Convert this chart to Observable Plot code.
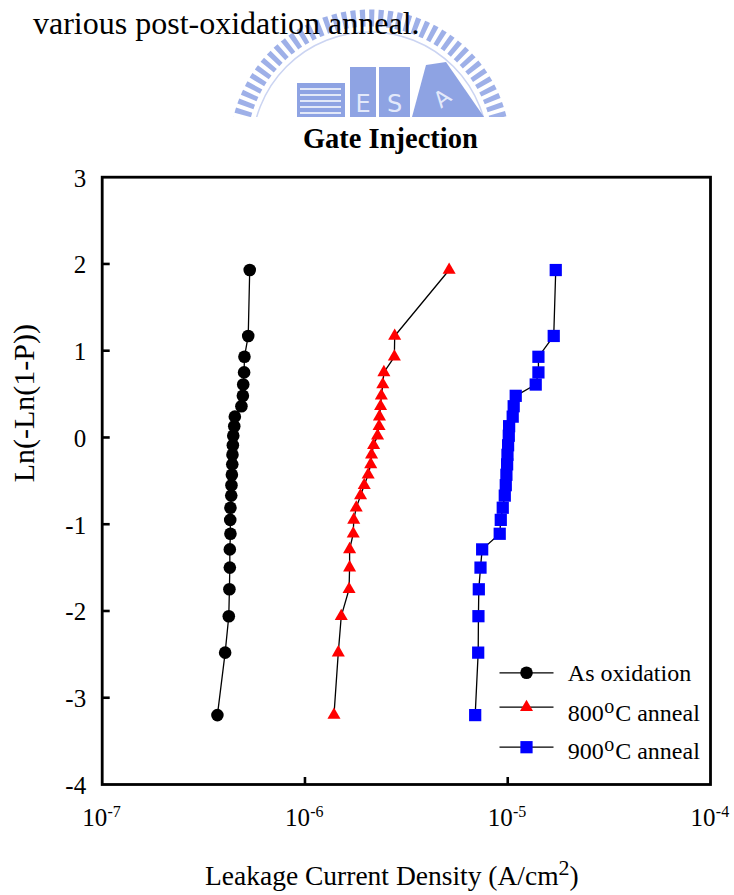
<!DOCTYPE html>
<html>
<head>
<meta charset="utf-8">
<script src="https://cdn.jsdelivr.net/npm/d3@7"></script>
<script src="https://cdn.jsdelivr.net/npm/@observablehq/plot@0.6"></script>
<style>
html, body { margin: 0; padding: 0; background: #fff; overflow: hidden; }
#page { position: relative; width: 734px; height: 895px; font-family: "Liberation Serif", "Times New Roman", serif; color: #000; }
#wm { position: absolute; left: 0; top: 0; }
#caption { position: absolute; left: 33px; top: 7px; font-size: 32px; line-height: 32px; white-space: nowrap; }
#chart { position: absolute; left: 0; top: 0; }
#chart svg, #chart svg text { font-family: "Liberation Serif", "Times New Roman", serif !important; }
#xlabel { position: absolute; left: 205px; top: 862px; font-size: 27.5px; line-height: 27.5px; white-space: nowrap; }
#xlabel .sup { position: relative; top: -10px; font-size: 22px; }
</style>
</head>
<body>
<div id="page">
  <svg id="wm" width="734" height="170" viewBox="0 0 734 170">
    <defs><clipPath id="wmclip"><rect x="0" y="0" width="734" height="117"/></clipPath></defs>
    <g clip-path="url(#wmclip)" opacity="0.85">
      <circle cx="370" cy="150" r="132" fill="none" stroke="#8ea3e5" stroke-width="17" stroke-dasharray="5 4"/>
      <circle cx="370" cy="150" r="118" fill="none" stroke="#c2cdf0" stroke-width="1.5"/>
      <rect x="297" y="83" width="48" height="34" fill="#7b93df"/>
      <g stroke="#ffffff" stroke-width="1.6">
        <line x1="300" y1="89" x2="341" y2="89"/>
        <line x1="300" y1="95" x2="341" y2="95"/>
        <line x1="300" y1="101" x2="341" y2="101"/>
        <line x1="300" y1="107" x2="341" y2="107"/>
        <line x1="300" y1="113" x2="341" y2="113"/>
      </g>
      <rect x="350" y="67" width="26" height="50" fill="#7b93df"/>
      <text x="363" y="112" fill="#dfe6fa" font-family="DejaVu Sans" font-size="24" text-anchor="middle">E</text>
      <rect x="379" y="67" width="31" height="50" fill="#7b93df"/>
      <text x="394.5" y="112" fill="#dfe6fa" font-family="DejaVu Sans" font-size="24" text-anchor="middle">S</text>
      <polygon points="412,117 426,65 446,62 484,117" fill="#7b93df"/>
      <text x="0" y="0" fill="#dfe6fa" font-family="DejaVu Sans" font-size="22" text-anchor="middle" transform="translate(447,104) rotate(-38)">A</text>
    </g>
  </svg>
  <div id="caption">various post-oxidation anneal.</div>
  <div id="chart"></div>
  <div id="xlabel">Leakage Current Density (A/cm<span class="sup">2</span>)</div>
</div>
<script>
// ---------- data ----------
const yRank = [-3.20, -2.48, -2.06, -1.75, -1.50, -1.29, -1.11, -0.95, -0.81, -0.67, -0.55, -0.43, -0.31,
               -0.20, -0.09, 0.02, 0.13, 0.24, 0.36, 0.48, 0.61, 0.75, 0.93, 1.17, 1.93];
const jAsOxidation = [3.70e-7, 4.04e-7, 4.21e-7, 4.24e-7, 4.26e-7, 4.26e-7, 4.29e-7, 4.28e-7, 4.29e-7, 4.33e-7,
                      4.34e-7, 4.36e-7, 4.38e-7, 4.39e-7, 4.41e-7, 4.43e-7, 4.48e-7, 4.51e-7, 4.86e-7, 4.94e-7,
                      4.96e-7, 5.01e-7, 5.03e-7, 5.25e-7, 5.34e-7];
const j800 = [1.39e-6, 1.46e-6, 1.51e-6, 1.65e-6, 1.66e-6, 1.66e-6, 1.73e-6, 1.74e-6, 1.79e-6, 1.88e-6,
              1.96e-6, 2.05e-6, 2.11e-6, 2.13e-6, 2.18e-6, 2.28e-6, 2.32e-6, 2.33e-6, 2.36e-6, 2.38e-6,
              2.42e-6, 2.45e-6, 2.76e-6, 2.77e-6, 5.14e-6];
const j900 = [6.91e-6, 7.15e-6, 7.17e-6, 7.20e-6, 7.34e-6, 7.48e-6, 9.13e-6, 9.24e-6, 9.45e-6, 9.67e-6,
              9.78e-6, 9.85e-6, 9.93e-6, 9.97e-6, 1.004e-5, 1.012e-5, 1.016e-5, 1.058e-5, 1.070e-5, 1.095e-5,
              1.374e-5, 1.417e-5, 1.417e-5, 1.686e-5, 1.725e-5];
const seriesNames = ["As oxidation", "800^oC anneal", "900^oC anneal"];
const seriesValues = [jAsOxidation, j800, j900];
const seriesColors = ["#000000", "#ff0000", "#0000ff"];
const seriesSymbols = ["circle", "triangle", "square"];
const xDomain = [1e-7, 1e-4];
const yDomain = [-4, 3];
const xTicks = [1e-7, 1e-6, 1e-5, 1e-4];
const xTickExponents = ["-7", "-6", "-5", "-4"];
const yTicks = [-4, -3, -2, -1, 0, 1, 2, 3];
const chartTitle = "Gate Injection";
const yLabel = "Ln(-Ln(1-P))";

// ---------- build ----------
const serif = "Liberation Serif, Times New Roman, serif";
const rows = seriesNames.flatMap((s, i) => seriesValues[i].map((j, k) => ({series: s, j, y: yRank[k]})));
const markerR = {circle: 6.3, triangle: 4.85, square: 6.9};
const tickRight = {draw(ctx) { ctx.moveTo(0, 0); ctx.lineTo(7.5, 0); }};
const tickUp = {draw(ctx) { ctx.moveTo(0, 0); ctx.lineTo(0, -7.5); }};
const hLine = {draw(ctx) { ctx.moveTo(-27, 0); ctx.lineTo(27, 0); }};
const xInner = xTicks.slice(1, -1);
const yInner = yTicks.slice(1, -1);

const legendLineDy = [-111.7, -77.3, -37.3];
const legendTextDy = [-104, -64, -25.7];
const legendMarks = seriesNames.flatMap((name, i) => {
  const parts = name.split(/\^(.)/);
  const base = {frameAnchor: "bottom-right", lineAnchor: "bottom", textAnchor: "start", fontSize: 24, fontFamily: serif, text: d => d};
  const m = [
    Plot.dot([name], {frameAnchor: "bottom-right", dx: -184, dy: legendLineDy[i], symbol: hLine, stroke: "black", strokeWidth: 1.3, fill: "none"}),
    Plot.dot([name], {frameAnchor: "bottom-right", dx: -184, dy: legendLineDy[i], symbol: seriesSymbols[i], fill: seriesColors[i], stroke: "none", r: markerR[seriesSymbols[i]]}),
    Plot.text([parts[0]], {...base, dx: -142.7, dy: legendTextDy[i]})
  ];
  if (parts.length > 1) {
    m.push(Plot.text([parts[1]], {...base, fontSize: 20, dx: -106.2, dy: legendTextDy[i] - 7.5}));
    m.push(Plot.text([parts[2]], {...base, dx: -95.3, dy: legendTextDy[i]}));
  }
  return m;
});

const chart = Plot.plot({
  width: 734,
  height: 895,
  marginLeft: 101.7,
  marginRight: 24,
  marginTop: 176.7,
  marginBottom: 111,
  style: {background: "transparent", fontFamily: serif, fontSize: "25px", color: "black", overflow: "visible"},
  x: {type: "log", domain: xDomain, axis: null},
  y: {domain: yDomain, axis: null},
  marks: [
    // connecting lines
    Plot.line(rows, {x: "j", y: "y", z: "series", stroke: "black", strokeWidth: 1.3}),
    // markers
    ...seriesNames.map((s, i) => Plot.dot(rows.filter(d => d.series === s), {
      x: "j", y: "y", symbol: seriesSymbols[i], fill: seriesColors[i], stroke: "none", r: markerR[seriesSymbols[i]]
    })),
    // inward ticks
    Plot.dot(yInner, {x: () => xDomain[0], y: d => d, symbol: tickRight, stroke: "black", strokeWidth: 2.6, fill: "none"}),
    Plot.dot(xInner, {x: d => d, y: () => yDomain[0], symbol: tickUp, stroke: "black", strokeWidth: 2.6, fill: "none"}),
    // frame
    Plot.frame({stroke: "black", strokeWidth: 2.8}),
    // y tick labels
    Plot.text(yTicks, {x: () => xDomain[0], y: d => d, text: d => String(d), textAnchor: "end", lineAnchor: "bottom", dx: -16, dy: 9.5, fontSize: 25, fontFamily: serif}),
    // x tick labels: 10 with superscript exponent
    Plot.text(xTicks, {x: d => d, y: () => yDomain[0], text: () => "10", textAnchor: "middle", lineAnchor: "bottom", dx: -7.5, dy: 41, fontSize: 25, fontFamily: serif}),
    Plot.text(xTicks, {x: d => d, y: () => yDomain[0], text: (d, i) => xTickExponents[i], textAnchor: "start", lineAnchor: "bottom", dx: 5.3, dy: 32, fontSize: 16, fontFamily: serif}),
    // title
    Plot.text([chartTitle], {frameAnchor: "top", text: d => d, dx: -16, dy: -29.7, lineAnchor: "bottom", fontWeight: "bold", fontSize: 28.5, fontFamily: serif}),
    // y label
    Plot.text([yLabel], {frameAnchor: "left", text: d => d, rotate: -90, dx: -78.3, dy: 1.5, fontSize: 30, fontFamily: serif}),
    // legend
    ...legendMarks
  ]
});
document.getElementById("chart").appendChild(chart);
</script>
</body>
</html>
